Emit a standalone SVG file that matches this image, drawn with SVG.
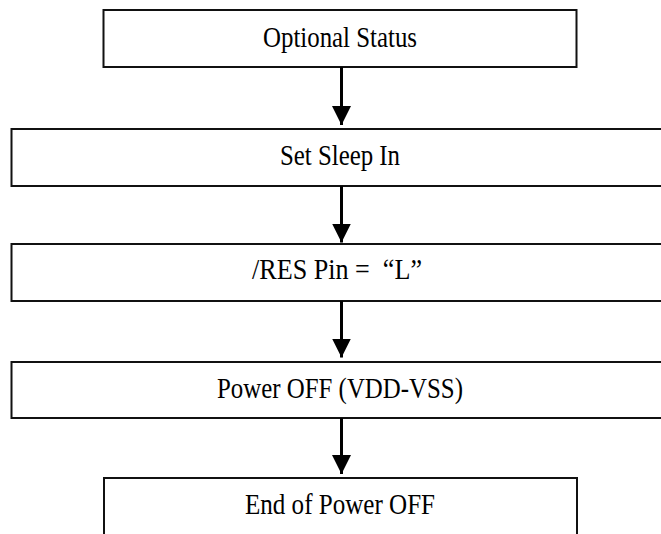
<svg xmlns="http://www.w3.org/2000/svg" width="661" height="534" viewBox="0 0 661 534">
  <style>
    .box { fill: #ffffff; stroke: #111111; stroke-width: 2; }
    .lbl { font-family: "Liberation Serif", "Times New Roman", serif; font-size: 29px; fill: #000000; text-anchor: middle; }
    .edge { stroke: #000000; stroke-width: 3; fill: none; }
  </style>
  <defs>
    <marker id="ah" markerUnits="userSpaceOnUse" markerWidth="20" markerHeight="21" refX="19" refY="9.5" orient="auto">
      <polygon points="0,0 19,9.5 0,19" fill="#000000"/>
    </marker>
  </defs>
  <rect width="661" height="534" fill="#ffffff"/>
  <g id="n1">
    <rect class="box" x="103.5" y="10" width="473" height="57"/>
    <text class="lbl" x="340" y="46.5" textLength="154" lengthAdjust="spacingAndGlyphs">Optional Status</text>
  </g>
  <g id="n2">
    <rect class="box" x="11.5" y="129" width="670" height="57"/>
    <text class="lbl" x="340" y="165" textLength="120" lengthAdjust="spacingAndGlyphs">Set Sleep In</text>
  </g>
  <g id="n3">
    <rect class="box" x="11.5" y="244" width="670" height="57"/>
    <text class="lbl" x="337" y="278.5" textLength="170" lengthAdjust="spacingAndGlyphs" xml:space="preserve">/RES Pin =  “L”</text>
  </g>
  <g id="n4">
    <rect class="box" x="11.5" y="362" width="670" height="56"/>
    <text class="lbl" x="340" y="398" textLength="246" lengthAdjust="spacingAndGlyphs">Power OFF (VDD-VSS)</text>
  </g>
  <g id="n5">
    <rect class="box" x="104" y="478" width="473" height="70"/>
    <text class="lbl" x="340" y="514" textLength="190" lengthAdjust="spacingAndGlyphs">End of Power OFF</text>
  </g>
  <g id="connectors">
    <line class="edge" x1="341.5" y1="67" x2="341.5" y2="125" marker-end="url(#ah)"/>
    <line class="edge" x1="341.5" y1="186" x2="341.5" y2="242.5" marker-end="url(#ah)"/>
    <line class="edge" x1="341.5" y1="301" x2="341.5" y2="357.5" marker-end="url(#ah)"/>
    <line class="edge" x1="341.5" y1="418" x2="341.5" y2="474" marker-end="url(#ah)"/>
  </g>
</svg>
